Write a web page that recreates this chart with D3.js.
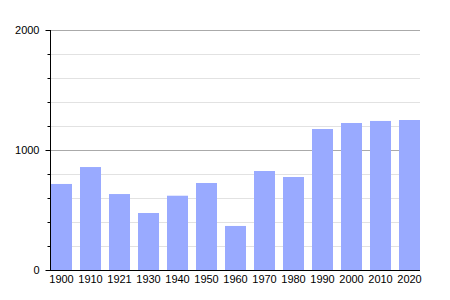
<!DOCTYPE html>
<html><head><meta charset="utf-8">
<script src="https://cdn.jsdelivr.net/npm/d3@7"></script>
<style>body{margin:0;background:#fff}svg{display:block}</style>
</head><body>
<script>
const years = ["1900","1910","1921","1930","1940","1950","1960","1970","1980","1990","2000","2010","2020"];
const population = [717, 858, 633, 475, 619, 725, 367, 825, 775, 1175, 1225, 1242, 1250];
const majorTicks = [0, 1000, 2000];
const minorTicks = [200, 400, 600, 800, 1200, 1400, 1600, 1800];

const W = 450, H = 300;
const svg = d3.select("body").append("svg").attr("width", W).attr("height", H);
const x = d3.scaleBand().domain(years).range([51, 420]).paddingInner(8 / 29).paddingOuter(0);
const y = d3.scaleLinear().domain([0, 2000]).range([270, 30]);

// minor grid
svg.append("g").selectAll("line").data(minorTicks).join("line")
  .attr("x1", 50).attr("x2", 420).attr("y1", d => Math.round(y(d)) + 0.5).attr("y2", d => Math.round(y(d)) + 0.5)
  .attr("stroke", "#e2e2e2").attr("stroke-width", 1);
// major grid
svg.append("g").selectAll("line").data(majorTicks.filter(d => d > 0)).join("line")
  .attr("x1", 50).attr("x2", 420).attr("y1", d => Math.round(y(d)) + 0.5).attr("y2", d => Math.round(y(d)) + 0.5)
  .attr("stroke", "#aaaaaa").attr("stroke-width", 1);

// bars
svg.append("g").selectAll("rect").data(years).join("rect")
  .attr("x", (d) => x(d))
  .attr("width", x.bandwidth())
  .attr("y", (d, i) => y(population[i]))
  .attr("height", (d, i) => y(0) - y(population[i]))
  .attr("fill", "#99aaff");

// y axis
const yAxis = d3.axisLeft(y).tickValues(majorTicks).tickSize(5).tickPadding(6).tickFormat(d3.format("d"));
const gy = svg.append("g").attr("transform", "translate(50.5,0)").call(yAxis);
gy.select(".domain").attr("d", "M0,30V270").attr("stroke", "#000");
gy.selectAll(".tick line").attr("stroke", "#000");
gy.selectAll("text").attr("font-family", "Liberation Sans, Arial, sans-serif").attr("font-size", 11).attr("fill", "#000");
const yMinor = d3.axisLeft(y).tickValues(minorTicks).tickSize(3).tickFormat("");
const gm = svg.append("g").attr("transform", "translate(50.5,0)").call(yMinor);
gm.select(".domain").remove();
gm.selectAll(".tick line").attr("stroke", "#000");

// x axis
const xAxis = d3.axisBottom(x).tickSize(0).tickPadding(5);
const gx = svg.append("g").attr("transform", "translate(0,270.5)").call(xAxis);
gx.select(".domain").attr("d", "M50,0H420").attr("stroke", "#000");
gx.selectAll("text").attr("font-family", "Liberation Sans, Arial, sans-serif").attr("font-size", 11).attr("fill", "#000");
</script>
</body></html>
